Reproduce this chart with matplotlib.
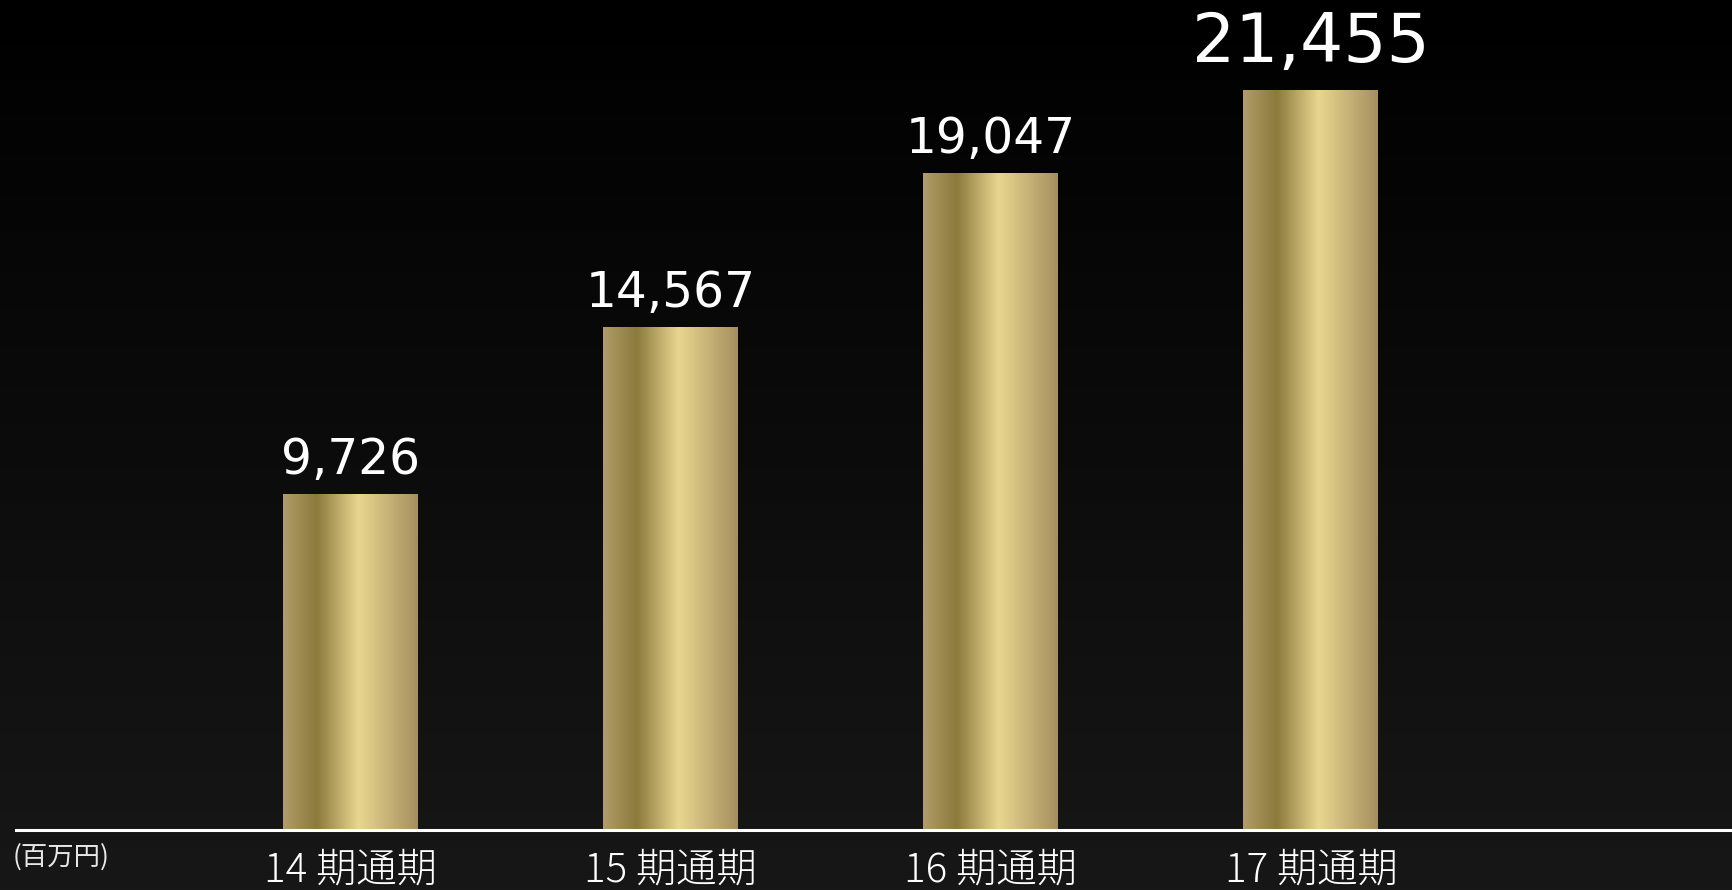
import numpy as np
import matplotlib.pyplot as plt
from matplotlib.colors import LinearSegmentedColormap

periods = ["14 期通期", "15 期通期", "16 期通期", "17 期通期"]
sales = [9726, 14567, 19047, 21455]
unit_label = "(百万円)"

plt.rcParams["font.family"] = ["Noto Sans CJK JP", "DejaVu Sans"]

W, H = 1733, 890
fig = plt.figure(figsize=(W / 100, H / 100), dpi=100)

# dark background, black at the top fading to charcoal
bg = fig.add_axes([0, 0, 1, 1])
bg.imshow(np.linspace(0, 1, 256).reshape(-1, 1), aspect="auto", extent=[0, 1, 0, 1],
          cmap=LinearSegmentedColormap.from_list("bg", ["#171717", "#000000"]),
          origin="lower")
bg.set_axis_off()

base_px = 60
ax = fig.add_axes([0, base_px / H, 1, 1 - base_px / H])
ax.set_facecolor("none")
ax.set_axis_off()

gold = LinearSegmentedColormap.from_list(
    "gold", [(0.0, "#b19d69"), (0.25, "#8a7a3c"), (0.56, "#e9d690"), (1.0, "#a68f60")])
grad = np.linspace(0, 1, 256).reshape(1, -1)

x = np.arange(len(sales))
width = 0.42
bars = ax.bar(x, sales, width=width, color="none", edgecolor="none")
for b in bars:
    x0, y1 = b.get_x(), b.get_height()
    im = ax.imshow(grad, aspect="auto", cmap=gold,
                   extent=[x0, x0 + width, 0, y1], zorder=2)
    im.set_clip_path(b)

ax.set_xlim(-1.095, 4.32)
ax.set_ylim(0, 24060)

for i, v in enumerate(sales):
    big = i == len(sales) - 1
    ax.annotate(f"{v:,}", (x[i], v), xytext=(0, 14 if big else 10),
                textcoords="offset pixels",
                ha="center", va="bottom", color="white",
                fontsize=49 if big else 35, family="DejaVu Sans")

# baseline
fig.add_artist(plt.Line2D([16 / W, 1], [base_px / H, base_px / H],
                          color="white", lw=2.2, transform=fig.transFigure))

for i, p in enumerate(periods):
    fig.text((350.4 + 320.2 * i) / W, 19 / H, p, ha="center", va="center",
             color="white", fontsize=29, fontweight="light")

fig.text(13 / W, 33 / H, unit_label, ha="left", va="center",
         color="#e6e6e6", fontsize=19)

fig.savefig("out.png", dpi=100, facecolor="black")
